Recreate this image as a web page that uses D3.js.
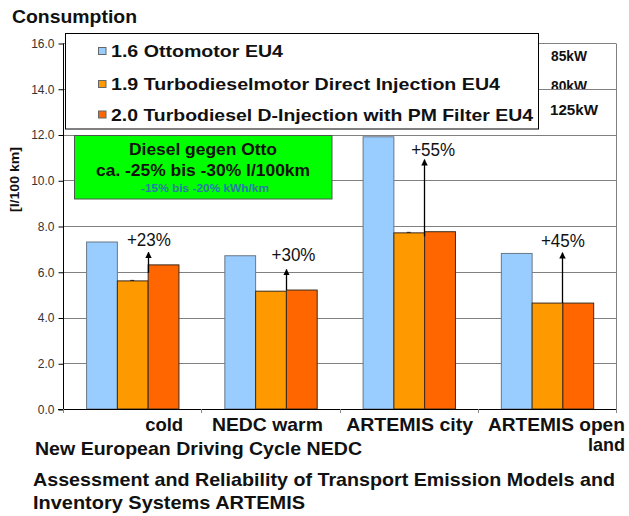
<!DOCTYPE html>
<html>
<head>
<meta charset="utf-8">
<script src="https://cdn.jsdelivr.net/npm/d3@7"></script>
<style>
  html, body { margin: 0; padding: 0; background: #fff; }
  svg { display: block; font-family: Arial, "Liberation Sans", sans-serif; }
</style>
</head>
<body>
<svg id="chart" width="629" height="516"></svg>
<script>
// Driving cycles on the x axis
const categories = ["cold", "NEDC warm", "ARTEMIS city", "ARTEMIS open land"];

// Vehicles (series)
const seriesNames = [
  "1.6 Ottomotor EU4",
  "1.9 Turbodieselmotor Direct Injection EU4",
  "2.0 Turbodiesel D-Injection with PM Filter EU4"
];
const seriesPower = ["85kW", "80kW", "125kW"];

// Fuel consumption in l/100 km
const ottoValues   = [7.3, 6.7, 11.9, 6.8];
const tdiValues    = [5.6, 5.15, 7.7, 4.63];
const pmValues     = [6.3, 5.2, 7.75, 4.63];

// Percentage arrows: from / to values and their labels
const arrowFrom   = [5.95, 5.2, 7.55, 4.63];
const arrowTo     = [6.85, 6.1, 10.9, 6.83];
const arrowLabels = ["+23%", "+30%", "+55%", "+45%"];

// Y axis ticks
const yTicks = [0, 2, 4, 6, 8, 10, 12, 14, 16];

const colors = ["#99ccff", "#ff9900", "#ff6600"];
const strokes = ["#6a7786", "#3a2a1a", "#3a2a1a"];

const svg = d3.select("#chart");
const defs = svg.append("defs");

// Plot frame
const plotLeft = 63, plotRight = 616, plotTop = 43, plotBottom = 409;

const x0 = d3.scaleBand().domain(categories).range([plotLeft, plotRight]).padding(0);
const bw = x0.bandwidth();
const x1 = d3.scaleBand().domain(d3.range(3)).range([bw * 0.167, bw * 0.835]).padding(0);
const y = d3.scaleLinear().domain([0, 16]).range([plotBottom, plotTop]);

// Helper: stretch/shrink text to a given width
function fit(sel, w) {
  sel.attr("textLength", w).attr("lengthAdjust", "spacingAndGlyphs");
  return sel;
}

// Power labels on the right side of the legend area; the middle one is
// cut off at the 14.0 gridline
defs.append("clipPath").attr("id", "kwclip")
  .append("rect").attr("x", 540).attr("y", Math.round(y(14)) + 1).attr("width", 80).attr("height", 0);
defs.append("clipPath").attr("id", "kwclip2")
  .append("rect").attr("x", 540).attr("y", 60).attr("width", 80).attr("height", Math.round(y(14)) - 60);
const kwG = svg.append("g").attr("font-weight", "bold").attr("font-size", 14).attr("fill", "#111");
const kwPos = [[551, 61, 36], [551, 91, 36], [550, 115, 48]];
seriesPower.forEach((t, i) => {
  const tx = fit(kwG.append("text").attr("x", kwPos[i][0]).attr("y", kwPos[i][1]).text(t), kwPos[i][2]);
  if (i === 1) tx.attr("clip-path", "url(#kwclip2)");
});

// Gridlines
svg.append("g").selectAll("line").data(yTicks.filter(d => d > 0)).join("line")
  .attr("x1", plotLeft).attr("x2", plotRight)
  .attr("y1", d => Math.round(y(d)) + 0.5).attr("y2", d => Math.round(y(d)) + 0.5)
  .attr("stroke", "#808080").attr("stroke-width", 1);

// Right border
svg.append("line").attr("x1", plotRight + 0.5).attr("x2", plotRight + 0.5)
  .attr("y1", Math.round(y(16)) + 0.5).attr("y2", plotBottom)
  .attr("stroke", "#808080");

// Bars
const allValues = [ottoValues, tdiValues, pmValues];
const groups = svg.append("g").selectAll("g").data(categories).join("g")
  .attr("transform", d => `translate(${x0(d)},0)`);
groups.selectAll("rect").data((d, ci) => allValues.map((vals, si) => ({ si, v: vals[ci] })))
  .join("rect")
  .attr("x", d => x1(d.si) + 0.5)
  .attr("width", x1.bandwidth())
  .attr("y", d => y(d.v))
  .attr("height", d => plotBottom - y(d.v))
  .attr("fill", d => colors[d.si])
  .attr("stroke", d => strokes[d.si])
  .attr("stroke-width", 1);

// Small marks on the diesel bars (groups 1 and 3)
const markGroups = [0, 2];
svg.append("g").selectAll("line").data(markGroups).join("line")
  .attr("x1", i => x0(categories[i]) + x1(1) + x1.bandwidth() / 2 - 2)
  .attr("x2", i => x0(categories[i]) + x1(1) + x1.bandwidth() / 2 + 2)
  .attr("y1", i => y(tdiValues[i]) - 0.5).attr("y2", i => y(tdiValues[i]) - 0.5)
  .attr("stroke", "#222").attr("stroke-width", 1);

// Axes
const yAxis = d3.axisLeft(y).tickValues(yTicks).tickFormat(d3.format(".1f")).tickSize(5).tickPadding(4);
const yg = svg.append("g").attr("transform", `translate(${plotLeft + 0.5},0.5)`).call(yAxis);
yg.select(".domain").attr("stroke", "#000").attr("d", `M0,${y(16)}V${plotBottom}`);
yg.selectAll(".tick line").attr("stroke", "#000");
yg.selectAll(".tick text").attr("font-size", 12).attr("fill", "#333").attr("font-family", "Arial, 'Liberation Sans', sans-serif");

// Bottom axis line with category separators
svg.append("line").attr("x1", plotLeft - 5).attr("x2", plotRight + 1)
  .attr("y1", plotBottom + 0.5).attr("y2", plotBottom + 0.5).attr("stroke", "#000");
const seps = categories.map(c => x0(c)).concat([plotRight]);
svg.append("g").selectAll("line").data(seps).join("line")
  .attr("x1", d => Math.round(d) + 0.5).attr("x2", d => Math.round(d) + 0.5)
  .attr("y1", plotBottom).attr("y2", plotBottom + 4).attr("stroke", "#888");

// Arrows for the percentage differences
defs.append("marker")
  .attr("id", "head").attr("viewBox", "0 0 10 10").attr("refX", 9).attr("refY", 5)
  .attr("markerWidth", 5).attr("markerHeight", 7).attr("orient", "auto")
  .append("path").attr("d", "M0,0L10,5L0,10Z").attr("fill", "#000");
const arrowX = (i) => Math.round(x0(categories[i]) + x1(2)) + 0.5;
svg.append("g").selectAll("line").data(arrowLabels).join("line")
  .attr("x1", (d, i) => arrowX(i)).attr("x2", (d, i) => arrowX(i))
  .attr("y1", (d, i) => y(arrowFrom[i])).attr("y2", (d, i) => y(arrowTo[i]))
  .attr("stroke", "#000").attr("stroke-width", 1.3)
  .attr("marker-end", "url(#head)");
const labelOffset = [[-21.6, -6], [-15, -8.6], [-13.3, -3.3], [-21.6, -5.4]];
svg.append("g").selectAll("text").data(arrowLabels).join("text")
  .attr("x", (d, i) => arrowX(i) + labelOffset[i][0])
  .attr("y", (d, i) => y(arrowTo[i]) + labelOffset[i][1])
  .attr("font-size", 18).attr("fill", "#111")
  .attr("textLength", 44).attr("lengthAdjust", "spacingAndGlyphs")
  .text(d => d);

// Legend box
const leg = svg.append("g");
leg.append("rect").attr("x", 65.5).attr("y", 33.5).attr("width", 473).attr("height", 95.5)
  .attr("fill", "#fff").attr("stroke", "#000").attr("stroke-width", 1);
const legY = [57, 90, 120.5];
const legW = [172, 389, 422];
seriesNames.forEach((name, i) => {
  leg.append("rect").attr("x", 98.5).attr("y", legY[i] - 9.5).attr("width", 7.5).attr("height", 7)
    .attr("fill", colors[i]).attr("stroke", "#666").attr("stroke-width", 1);
  fit(leg.append("text").attr("x", 111).attr("y", legY[i])
    .attr("font-size", 17).attr("font-weight", "bold").attr("fill", "#111").text(name), legW[i]);
});

// Green annotation box
const note = svg.append("g");
note.append("rect").attr("x", 74.5).attr("y", 135.5).attr("width", 257.5).attr("height", 63.5)
  .attr("fill", "#00ff00").attr("stroke", "#4a5a4a").attr("stroke-width", 1);
fit(note.append("text").attr("x", 129).attr("y", 155).attr("font-size", 16).attr("font-weight", "bold")
  .attr("fill", "#111").text("Diesel gegen Otto"), 148);
fit(note.append("text").attr("x", 96).attr("y", 176).attr("font-size", 16).attr("font-weight", "bold")
  .attr("fill", "#111").text("ca. -25% bis -30% l/100km"), 214);
fit(note.append("text").attr("x", 141).attr("y", 191.5).attr("font-size", 10).attr("font-weight", "bold")
  .attr("fill", "#2a7aa8").text("-15% bis  -20% kWh/km"), 128);

// Title
fit(svg.append("text").attr("x", 12).attr("y", 23).attr("font-size", 18).attr("font-weight", "bold")
  .attr("fill", "#111").text("Consumption"), 125);

// Y axis title
fit(svg.append("text").attr("transform", "translate(19,212) rotate(-90)")
  .attr("font-size", 12).attr("font-weight", "bold").attr("fill", "#111").text("[l/100 km]"), 65);

// Category labels
const catG = svg.append("g").attr("font-size", 19).attr("font-weight", "bold").attr("fill", "#111");
const catLayout = [[32, 38], [-3, 111], [1, 127], [9.5, 137]];
categories.forEach((c, i) => {
  const cx = x0(c) + bw / 2 + catLayout[i][0];
  const w = catLayout[i][1];
  if (c === "ARTEMIS open land") {
    fit(catG.append("text").attr("x", cx - w / 2).attr("y", 430.5).text("ARTEMIS open"), w);
    fit(catG.append("text").attr("x", cx + w / 2).attr("y", 451).attr("text-anchor", "end").text("land"), 37);
  } else {
    fit(catG.append("text").attr("x", cx - w / 2).attr("y", 430.5).text(c), w);
  }
});

// Explanatory footer
const foot = svg.append("g").attr("font-size", 19).attr("font-weight", "bold").attr("fill", "#111");
fit(foot.append("text").attr("x", 35).attr("y", 455).text("New European Driving Cycle NEDC"), 327);
fit(foot.append("text").attr("x", 33).attr("y", 486).text("Assessment and Reliability of Transport Emission Models and"), 582);
fit(foot.append("text").attr("x", 33).attr("y", 509).text("Inventory Systems  ARTEMIS"), 272);
</script>
</body>
</html>
